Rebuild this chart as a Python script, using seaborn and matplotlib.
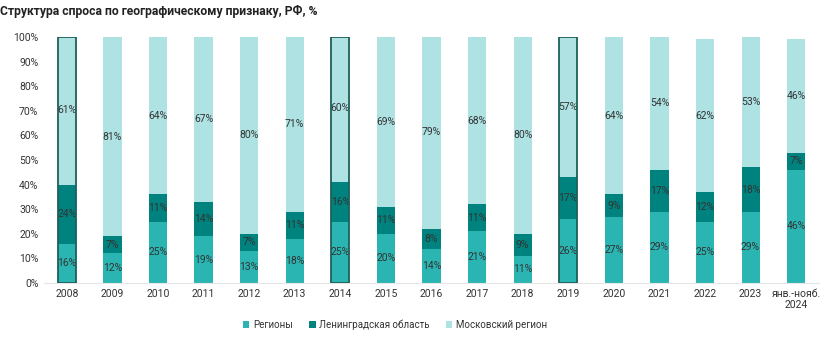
import matplotlib
matplotlib.use("Agg")
import matplotlib.pyplot as plt
import seaborn as sns
import pandas as pd
import numpy as np

years = ["2008", "2009", "2010", "2011", "2012", "2013", "2014", "2015", "2016",
         "2017", "2018", "2019", "2020", "2021", "2022", "2023", "янв.-нояб.\n2024"]
regions = [16, 12, 25, 19, 13, 18, 25, 20, 14, 21, 11, 26, 27, 29, 25, 29, 46]
leningrad = [24, 7, 11, 14, 7, 11, 16, 11, 8, 11, 9, 17, 9, 17, 12, 18, 7]
moscow = [61, 81, 64, 67, 80, 71, 60, 69, 79, 68, 80, 57, 64, 54, 62, 53, 46]
highlighted = ["2008", "2014", "2019"]

series_names = ["Регионы", "Ленинградская область", "Московский регион"]
colors = ["#2bb5b2", "#00837e", "#aee2e3"]

sns.set_theme(style="white")
plt.rcParams["font.family"] = ["Roboto", "DejaVu Sans"]

df = pd.DataFrame({"year": years, "r": regions, "l": leningrad, "m": moscow})

fig = plt.figure(figsize=(8.21, 3.37), dpi=100)
ax = fig.add_axes([44 / 821, (337 - 283) / 337, 775 / 821, 246 / 337])

bottom = np.zeros(len(years))
for col, name, color in zip(["r", "l", "m"], series_names, colors):
    sns.barplot(data=df, x="year", y=col, color=color, width=0.4, bottom=bottom,
                ax=ax, label=name, saturation=1, linewidth=0)
    vals = df[col].to_numpy()
    for i, v in enumerate(vals):
        ax.text(i, bottom[i] + v / 2, f"{v}%", ha="center", va="center",
                fontsize=7.5, color="#333333")
    bottom = bottom + vals

# outline the highlighted years
for i, y in enumerate(years):
    if y in highlighted:
        ax.add_patch(plt.Rectangle((i - 0.2, 0), 0.4, 100, fill=False,
                                   edgecolor="#1f5f5b", linewidth=1.3, zorder=5))

ax.set_ylim(0, 100)
ax.set_xlim(-0.5, len(years) - 0.5)
ax.set_yticks(np.arange(0, 101, 10))
ax.set_yticklabels([f"{t}%" for t in range(0, 101, 10)])
ax.set_xlabel("")
ax.set_ylabel("")
ax.tick_params(axis="both", length=0, labelsize=7.5, colors="#333333", pad=4)
for s in ["top", "right", "left"]:
    ax.spines[s].set_visible(False)
ax.spines["bottom"].set_color("#e6e6e6")
ax.spines["bottom"].set_linewidth(0.8)

handles, labels = ax.get_legend_handles_labels()
ax.legend_.remove() if ax.legend_ else None
fig.legend(handles, labels, loc="center", bbox_to_anchor=(395 / 821, 12 / 337),
           ncol=3, frameon=False, fontsize=7, handlelength=0.7, handleheight=0.7,
           handletextpad=0.4, columnspacing=1.6, labelcolor="#333333",
           borderpad=0, borderaxespad=0)

fig.text(8 / 821, 337 - 12, "Структура спроса по географическому признаку, РФ, %",
         transform=None, fontsize=8.7, fontweight="bold", color="#222222",
         va="center")

fig.savefig("out.png", dpi=100)
